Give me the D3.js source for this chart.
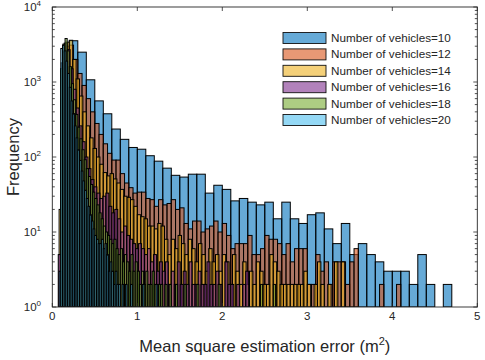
<!DOCTYPE html>
<html>
<head>
<meta charset="utf-8">
<script src="https://cdn.jsdelivr.net/npm/d3@7"></script>
<style>
  body { margin: 0; background: #fff; }
  text { font-family: "Liberation Sans", Arial, sans-serif; fill: #262626; }
</style>
</head>
<body>
<svg id="chart" width="485" height="360"></svg>
<script>
// legend / series
const series_names = ["Number of vehicles=10", "Number of vehicles=12", "Number of vehicles=14",
                      "Number of vehicles=16", "Number of vehicles=18", "Number of vehicles=20"];
const series_colors = ["#0072BD", "#D95319", "#EDB120", "#7E2F8E", "#77AC30", "#4DBEEE"];

// histogram bins: first edge and bin width of each series
const bin_start = [0.1, 0.1, 0.08, 0.07, 0.1, 0.08];
const bin_width = [0.1, 0.05, 0.04, 0.035, 0.025, 0.02];

// counts
const counts_10 = [600, 3550, 2500, 1070, 560, 377, 236, 172, 134, 127,
                   104, 88, 71, 57, 54, 59, 59, 33, 42, 37,
                   26, 28, 25, 23, 25, 15, 25, 15, 13, 17,
                   18, 11, 7, 13, 5, 7, 5, 4, 3, 3,
                   3, 2, 5, 2, 0, 2];
const counts_12 = [1500, 3000, 3100, 2000, 1300, 900, 600, 400, 280, 200,
                   150, 112, 91, 91, 60, 45, 39, 33, 34, 34,
                   28, 27, 22, 27, 23, 24, 27, 20, 21, 13,
                   11, 14, 14, 10, 11, 12, 14, 10, 13, 9,
                   6, 7, 7, 7, 9, 5, 5, 6, 9, 8,
                   8, 7, 5, 7, 4, 6, 6, 6, 2, 2,
                   5, 3, 4, 2, 4, 4, 4, 2, 4, 6,
                   0, 0, 0, 0, 0, 2, 0, 0, 0, 2];
const counts_14 = [20, 2500, 3400, 3600, 2000, 1100, 650, 400, 260, 180,
                   130, 100, 80, 62, 56, 60, 51, 45, 37, 30,
                   29, 27, 22, 17, 16, 15, 12, 12, 11, 13,
                   12, 8, 5, 8, 6, 9, 7, 5, 8, 6,
                   4, 7, 5, 3, 6, 4, 5, 3, 5, 4,
                   2, 5, 3, 2, 4, 2, 3, 2, 4, 3,
                   2, 2, 5, 4, 3, 2, 2, 2, 2, 2,
                   2, 2, 3, 2, 0, 2, 4, 2, 0, 2,
                   0, 4, 0, 4];
const counts_16 = [5, 1800, 3300, 2700, 1500, 800, 450, 260, 160, 100,
                   70, 50, 40, 33, 28, 30, 33, 22, 18, 20,
                   15, 10, 12, 9, 8, 7, 6, 7, 6, 5,
                   6, 4, 5, 3, 4, 3, 4, 2, 3, 2,
                   4, 2, 3, 2, 4, 2, 2, 3, 2, 2,
                   4, 2, 2, 3, 2, 0, 4, 2, 2, 0,
                   2, 0, 2, 3];
const counts_18 = [1500, 3200, 3800, 2600, 1600, 950, 580, 370, 250, 175,
                   125, 92, 70, 55, 43, 34, 28, 23, 18, 15,
                   12, 10, 9, 8, 7, 8, 6, 5, 6, 4,
                   5, 4, 3, 5, 3, 4, 3, 2, 3, 2,
                   3, 2, 2, 3, 2, 0, 2, 2, 0, 2,
                   0, 2, 0, 0, 2, 0, 0, 0, 2, 0,
                   0, 0, 0, 0, 2, 0, 0, 0, 0, 0,
                   0, 0, 0, 0, 2, 0, 0, 0, 0, 0,
                   0, 0, 0, 0, 0, 0, 0, 0, 0, 0,
                   0, 0, 0, 0, 2, 0, 0, 0, 0, 0,
                   2];
const counts_20 = [3, 2800, 3100, 2600, 1900, 1300, 850, 560, 380, 260,
                   180, 125, 90, 65, 48, 36, 28, 22, 17, 14,
                   11, 9, 8, 7, 7, 8, 6, 7, 5, 3,
                   4, 3, 2, 3, 2, 2, 0, 2, 0, 2,
                   0, 0, 2, 0, 0, 0, 0, 0, 0, 2,
                   0, 0, 0, 0, 0, 0, 0, 2];
const all_counts = [counts_10, counts_12, counts_14, counts_16, counts_18, counts_20];

const x_ticks = [0, 1, 2, 3, 4, 5];
const y_ticks = [1, 10, 100, 1000, 10000];

const LEFT = 52.3, RIGHT = 477.3, TOP = 7, BOTTOM = 307;

const $svg = d3.select("#chart");

const scale_X = d3.scaleLinear().domain([0, 5]).range([LEFT, RIGHT]);
const scale_Y = d3.scaleLog().domain([1, 10000]).range([BOTTOM, TOP]);

$svg.append("clipPath").attr("id", "plot-clip")
    .append("rect")
    .attr("x", LEFT).attr("y", TOP)
    .attr("width", RIGHT - LEFT).attr("height", BOTTOM - TOP);

// bars, first series at the bottom
const $bars = $svg.append("g").attr("clip-path", "url(#plot-clip)");

all_counts.forEach(function(counts, s) {
    const bins = counts.map((c, i) => ({
        x0: bin_start[s] + i * bin_width[s],
        x1: bin_start[s] + (i + 1) * bin_width[s],
        n: c
    })).filter(d => d.n > 1);

    $bars.append("g")
        .selectAll("rect")
        .data(bins)
        .join("rect")
        .attr("x", d => scale_X(d.x0))
        .attr("width", d => scale_X(d.x1) - scale_X(d.x0))
        .attr("y", d => scale_Y(d.n))
        .attr("height", d => scale_Y(1) - scale_Y(d.n))
        .attr("fill", series_colors[s])
        .attr("fill-opacity", 0.6)
        .attr("stroke", "#000")
        .attr("stroke-width", 1);
});

// axes box
const AX = "#262626";
$svg.append("rect")
    .attr("x", LEFT).attr("y", TOP)
    .attr("width", RIGHT - LEFT).attr("height", BOTTOM - TOP)
    .attr("fill", "none").attr("stroke", AX).attr("stroke-width", 0.9);

const $ticks = $svg.append("g").attr("stroke", AX).attr("stroke-width", 0.8);

// x ticks, bottom and top, inward
x_ticks.forEach(function(t) {
    const x = scale_X(t);
    $ticks.append("line").attr("x1", x).attr("x2", x).attr("y1", BOTTOM).attr("y2", BOTTOM - 4);
    $ticks.append("line").attr("x1", x).attr("x2", x).attr("y1", TOP).attr("y2", TOP + 4);
});

$svg.append("g").selectAll("text")
    .data(x_ticks)
    .join("text")
    .attr("x", d => scale_X(d))
    .attr("y", 320)
    .attr("text-anchor", "middle")
    .attr("font-size", 11.5)
    .text(d => d);

// y ticks (major + minor), left and right
const minor_ticks = scale_Y.ticks().filter(t => y_ticks.indexOf(t) < 0);
y_ticks.forEach(function(t) {
    const y = scale_Y(t);
    $ticks.append("line").attr("x1", LEFT).attr("x2", LEFT + 4).attr("y1", y).attr("y2", y);
    $ticks.append("line").attr("x1", RIGHT).attr("x2", RIGHT - 4).attr("y1", y).attr("y2", y);
});
minor_ticks.forEach(function(t) {
    const y = scale_Y(t);
    $ticks.append("line").attr("x1", LEFT).attr("x2", LEFT + 2.5).attr("y1", y).attr("y2", y);
    $ticks.append("line").attr("x1", RIGHT).attr("x2", RIGHT - 2.5).attr("y1", y).attr("y2", y);
});

const $ylab = $svg.append("g").selectAll("text")
    .data(y_ticks)
    .join("text")
    .attr("x", 41)
    .attr("y", d => scale_Y(d) + 4)
    .attr("text-anchor", "end")
    .attr("font-size", 11.5);
$ylab.append("tspan").text("10");
$ylab.append("tspan")
    .attr("font-size", 8)
    .attr("dy", -5)
    .text(d => Math.round(Math.log10(d)));

// axis titles
const $xt = $svg.append("text")
    .attr("x", (LEFT + RIGHT) / 2)
    .attr("y", 352)
    .attr("text-anchor", "middle")
    .attr("font-size", 16.5)
    .text("Mean square estimation error (m");
$xt.append("tspan").attr("font-size", 11).attr("dy", -7).text("2");
$xt.append("tspan").attr("dy", 7).text(")");

$svg.append("text")
    .attr("transform", "translate(19," + ((TOP + BOTTOM) / 2) + ") rotate(-90)")
    .attr("text-anchor", "middle")
    .attr("font-size", 16.5)
    .text("Frequency");

// legend, no box
const $leg = $svg.append("g")
    .selectAll("g")
    .data(series_names)
    .join("g")
    .attr("transform", (d, i) => "translate(283," + (32.5 + i * 16.4) + ")");

$leg.append("rect")
    .attr("width", 43).attr("height", 11)
    .attr("fill", (d, i) => series_colors[i])
    .attr("fill-opacity", 0.6)
    .attr("stroke", "#111")
    .attr("stroke-width", 0.9);

$leg.append("text")
    .attr("x", 48)
    .attr("y", 9.5)
    .attr("font-size", 11.7)
    .text(d => d);
</script>
</body>
</html>
